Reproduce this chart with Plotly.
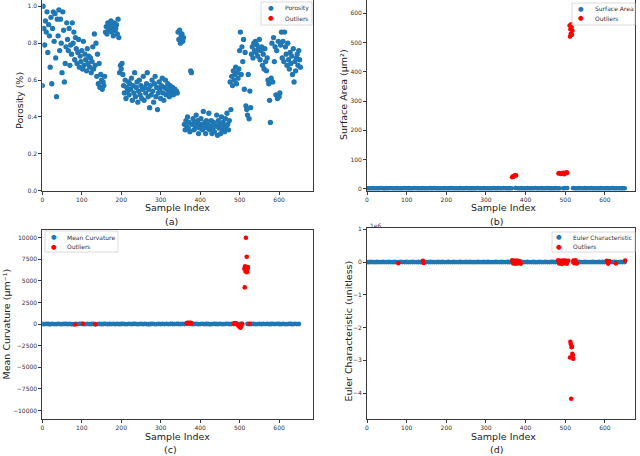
import plotly.graph_objects as go

# ---- data ----
# porosity, one value every 2nd sample index (0, 2, ..., 654)
porosity = [
    0.57, 1.00, 0.88, 0.79, 0.92, 0.86, 0.97, 0.75, 0.90, 0.84,
    0.67, 0.94, 0.58, 0.88, 0.97, 0.81, 0.96, 0.72, 0.51, 0.93,
    0.84, 0.98, 0.76, 0.93, 0.80, 0.64, 0.97, 0.87, 0.59, 0.69,
    0.78, 0.91, 0.82, 0.76, 0.88, 0.68, 0.79, 0.74, 0.91, 0.80,
    0.86, 0.71, 0.83, 0.77, 0.69, 0.75, 0.82, 0.67, 0.73, 0.70,
    0.76, 0.66, 0.81, 0.68, 0.74, 0.71, 0.65, 0.77, 0.69, 0.73,
    0.67, 0.72, 0.64, 0.70, 0.78, 0.66, 0.85, 0.68, 0.80, 0.62,
    0.74, 0.58, 0.69, 0.56, 0.63, 0.60, 0.55, 0.59, 0.57, 0.62,
    0.86, 0.89, 0.85, 0.91, 0.88, 0.90, 0.87, 0.92, 0.86, 0.89,
    0.84, 0.91, 0.87, 0.88, 0.90, 0.85, 0.93, 0.83, 0.64, 0.68,
    0.66, 0.69, 0.63, 0.57, 0.53, 0.60, 0.50, 0.56, 0.54, 0.59,
    0.52, 0.58, 0.55, 0.61, 0.49, 0.57, 0.53, 0.64, 0.51, 0.56,
    0.59, 0.48, 0.54, 0.60, 0.52, 0.57, 0.50, 0.55, 0.62, 0.49,
    0.56, 0.53, 0.58, 0.64, 0.51, 0.55, 0.45, 0.57, 0.52, 0.60,
    0.54, 0.48, 0.58, 0.62, 0.51, 0.56, 0.44, 0.53, 0.59, 0.55,
    0.50, 0.57, 0.61, 0.53, 0.49, 0.56, 0.60, 0.52, 0.55, 0.58,
    0.54, 0.51, 0.57, 0.53, 0.55, 0.56, 0.52, 0.54, 0.55, 0.53,
    0.54, 0.53, 0.86, 0.82, 0.87, 0.80, 0.84, 0.85, 0.81, 0.83,
    0.36, 0.33, 0.38, 0.35, 0.40, 0.34, 0.37, 0.32, 0.65, 0.64,
    0.36, 0.39, 0.33, 0.37, 0.34, 0.41, 0.35, 0.38, 0.31, 0.36,
    0.34, 0.39, 0.36, 0.33, 0.43, 0.35, 0.37, 0.31, 0.38, 0.34,
    0.36, 0.42, 0.33, 0.35, 0.38, 0.31, 0.34, 0.37, 0.32, 0.36,
    0.35, 0.41, 0.30, 0.38, 0.34, 0.36, 0.31, 0.40, 0.33, 0.37,
    0.35, 0.32, 0.39, 0.34, 0.42, 0.36, 0.33, 0.38, 0.59, 0.44,
    0.62, 0.57, 0.65, 0.60, 0.63, 0.67, 0.58, 0.64, 0.61, 0.66,
    0.76, 0.86, 0.63, 0.78, 0.70, 0.82, 0.55, 0.75, 0.46, 0.44,
    0.41, 0.63, 0.39, 0.54, 0.45, 0.74, 0.78, 0.72, 0.80, 0.76,
    0.81, 0.75, 0.79, 0.73, 0.77, 0.82, 0.71, 0.76, 0.78, 0.68,
    0.74, 0.66, 0.77, 0.70, 0.65, 0.72, 0.60, 0.58, 0.49, 0.37,
    0.61, 0.80, 0.59, 0.83, 0.70, 0.78, 0.52, 0.76, 0.50, 0.81,
    0.51, 0.53, 0.79, 0.86, 0.72, 0.81, 0.70, 0.86, 0.78, 0.74,
    0.68, 0.80, 0.71, 0.66, 0.75, 0.69, 0.73, 0.63, 0.77, 0.59,
    0.70, 0.65, 0.72, 0.74, 0.68, 0.76, 0.71, 0.67,
]
porosity_idx = list(range(0, 2 * len(porosity), 2))

# non-outlier samples for the other three metrics, every 5th index (None = flagged)
surface_area = [
    1.8, 2.1, 1.6, 2.4, 1.9, 2.2, 1.7, 2.6, 2.0, 1.5,
    2.3, 1.9, 2.7, 2.1, 1.8, 2.4, 2.0, 1.6, 2.2, 2.5,
    1.9, 2.3, 1.7, 2.0, 2.6, 1.8, 2.2, 1.9, 2.4, 2.1,
    1.6, 2.0, 2.3, 1.8, 2.5, 2.1, 1.7, 2.2, 1.9, 2.4,
    2.0, 1.8, 2.3, 2.6, 1.9, 2.1, 1.7, 2.4, 2.2, 1.8,
    2.5, 2.0, 1.6, 2.3, 1.9, 2.2, 2.7, 1.8, 2.1, 2.4,
    1.9, 2.2, 1.7, 2.0, 2.5, 1.8, 2.3, 2.1, 1.9, 2.6,
    2.0, 1.7, 2.4, 2.2, None, 2.8, 2.1, 1.9, 2.3, 2.0,
    1.8, 2.4, 2.1, 1.7, 2.2, 2.5, 1.9, 2.0, 2.3, 1.8,
    2.1, 2.6, 1.9, 2.2, 1.7, 2.4, 2.0, 1.8, None, 2.1,
    2.9, 3.1, None, None, 2.7, 2.2, 1.9, 2.4, 2.0, 1.8,
    2.3, 2.1, 1.7, 2.5, 1.9, 2.2, 2.0, 1.8, 2.4, 2.1,
    1.9, 2.3, 1.6, 2.0, 2.5, 1.8, 2.2, 2.1, 1.9, 2.4,
    2.0,
]
mean_curvature = [
    14, -6, 22, 9, -15, 31, 4, -11, 18, 7,
    -9, 26, 12, -4, 19, -17, 8, 33, -2, 15,
    21, -12, 6, 28, -7, 11, 17, -20, 3, 24,
    -5, 13, 30, -14, 9, 2, 25, -8, 16, -3,
    10, 27, -13, 5, 20, -1, 14, 29, -10, 7,
    18, -6, 23, 1, -16, 12, 31, -4, 8, 19,
    -11, 26, 4, 15, -7, 21, 9, -2, 28, 13,
    -9, 17, 6, 24, None, 35, -5, 11, 20, -12,
    8, 27, -3, 14, 22, -15, 5, 18, 10, -6,
    25, 2, -10, 16, 29, -8, 12, 7, None, 33,
    -18, 41, None, None, 19, -4, 13, 26, -9, 6,
    21, -14, 15, 3, 28, -7, 11, 24, -2, 17,
    9, -11, 30, 5, -6, 20, 14, -13, 23, 8,
    12,
]
euler_char = [
    1200, -800, 2500, 600, -1500, 3100, 400, -1100, 1800, 700,
    -900, 2600, 1200, -400, 1900, -1700, 800, 3300, -200, 1500,
    2100, -1200, 600, 2800, -700, 1100, 1700, -2000, 300, 2400,
    -500, 1300, 3000, -1400, 900, 200, 2500, -800, 1600, -300,
    1000, 2700, -1300, 500, 2000, -100, 1400, 2900, -1000, 700,
    1800, -600, 2300, 100, -1600, 1200, 3100, -400, 800, 1900,
    -1100, 2600, 400, 1500, -700, 2100, 900, -200, 2800, 1300,
    -900, 1700, 600, 2400, None, 3500, -500, 1100, 2000, -1200,
    800, 2700, -300, 1400, 2200, -1500, 500, 1800, 1000, -600,
    2500, 200, -1000, 1600, 2900, -800, 1200, 700, None, 3300,
    -1800, 4100, None, None, 1900, -400, 1300, 2600, -900, 600,
    2100, -1400, 1500, 300, 2800, -700, 1100, 2400, -200, 1700,
    900, -1100, 3000, 500, -600, 2000, 1400, -1300, 2300, 800,
    1200,
]
normal_idx = list(range(0, 5 * len(surface_area), 5))

sa_out_idx = [366, 368, 370, 372, 374, 376, 483, 486, 489, 492, 495, 498, 501, 503, 505,
              511, 512, 513, 514, 515, 516, 517, 518]
sa_out_val = [40, 43, 42, 45, 47, 46, 53, 54, 51, 53, 55, 50, 54, 57, 55,
              558, 520, 545, 530, 562, 552, 526, 540]

cv_out_idx = [83, 103, 134, 366, 368, 370, 372, 374, 376, 378, 485, 488, 491, 494, 497,
              500, 502, 504, 507, 512, 513, 514, 515, 516, 517, 518, 519, 520, 521, 525]
cv_out_val = [-40, 35, -25, 110, 160, 90, 140, 70, 150, 100, 60, 120, 80, -60, -180,
              -330, -420, -240, 20, 6400, 4250, 6700, 6100, 10000, 6550, 7800, 6000, 6300, 6600, 40]

eu_out_idx = [79, 141, 143, 366, 369, 372, 375, 378, 381, 384, 388, 482, 485, 488, 491,
              494, 497, 500, 504, 508, 512, 513, 514, 515, 516, 517, 518, 519, 520, 521,
              523, 526, 529, 605, 608, 611, 628, 651]
eu_out_val = [-35000, 42000, -28000, 51000, -44000, 38000, -52000, 47000, -39000, 33000,
              -46000, 55000, -41000, 36000, -58000, 44000, -37000, 49000, -53000, 40000,
              -2910000, -2430000, -2500000, -4170000, -2600000, -2580000, -2800000,
              -2850000, -2950000, 45000, -38000, 52000, -43000, 39000, -47000, 34000,
              -41000, 48000]

BLUE = "#1f77b4"
RED = "#ff0000"
W, H = 640, 456
FONT = "DejaVu Sans"

fig = go.Figure()


def add_panel(n, x, y, name, out_x, out_y, size=4.8):
    ax = "" if n == 1 else str(n)
    fig.add_trace(go.Scatter(x=x, y=y, mode="markers", name=name, showlegend=False,
                             marker=dict(color=BLUE, size=size),
                             xaxis="x" + ax, yaxis="y" + ax))
    fig.add_trace(go.Scatter(x=out_x, y=out_y, mode="markers", name="Outliers", showlegend=False,
                             marker=dict(color=RED, size=4.6),
                             xaxis="x" + ax, yaxis="y" + ax))


add_panel(1, porosity_idx, porosity, "Porosity", [], [], size=5.3)
add_panel(2, normal_idx, surface_area, "Surface Area", sa_out_idx, sa_out_val)
add_panel(3, normal_idx, mean_curvature, "Mean Curvature", cv_out_idx, cv_out_val)
add_panel(4, normal_idx, euler_char, "Euler Characteristic", eu_out_idx, eu_out_val)

axis_style = dict(showline=True, linecolor="#3a3a3a", linewidth=0.9, mirror=True,
                  ticks="outside", ticklen=3, tickwidth=0.8, tickcolor="#3a3a3a",
                  tickfont=dict(size=6, color="#333333", family=FONT),
                  showgrid=False, zeroline=False, automargin=False)

xl = [42.3 / W, 313 / W]
xr = [367 / W, 635 / W]
yt = [1 - 190.7 / H, 1.0]
yb = [1 - 418.7 / H, 1 - 229.5 / H]
xticks = [0, 100, 200, 300, 400, 500, 600]

fig.update_layout(
    width=W, height=H, margin=dict(l=0, r=0, t=0, b=0),
    plot_bgcolor="white", paper_bgcolor="white", showlegend=False,
    font=dict(family=FONT, color="#222222"),
    xaxis=dict(domain=xl, range=[0, 686], tickvals=xticks, anchor="y", **axis_style),
    yaxis=dict(domain=yt, range=[0, 1.034], tickvals=[0, 0.2, 0.4, 0.6, 0.8, 1.0],
               tickformat=".1f", anchor="x", **axis_style),
    xaxis2=dict(domain=xr, range=[0, 676], tickvals=xticks, anchor="y2", **axis_style),
    yaxis2=dict(domain=yt, range=[-6, 645], tickvals=[0, 100, 200, 300, 400, 500, 600],
                anchor="x2", **axis_style),
    xaxis3=dict(domain=xl, range=[0, 686], tickvals=xticks, anchor="y3", **axis_style),
    yaxis3=dict(domain=yb, range=[-10950, 10950],
                tickvals=[-10000, -7500, -5000, -2500, 0, 2500, 5000, 7500, 10000],
                tickformat="d", anchor="x3", **axis_style),
    xaxis4=dict(domain=xr, range=[0, 676], tickvals=xticks, anchor="y4", **axis_style),
    yaxis4=dict(domain=[yb[0], 1 - 228 / H], range=[-4.78e6, 1.04e6],
                tickvals=[-4e6, -3e6, -2e6, -1e6, 0, 1e6],
                ticktext=["\u22124", "\u22123", "\u22122", "\u22121", "0", "1"],
                anchor="x4", **axis_style),
)


def px_note(text, px, py, size, color="#222222", anchor="center", angle=0):
    fig.add_annotation(text=text, x=px / W, y=1 - py / H, xref="paper", yref="paper",
                       showarrow=False, textangle=angle, xanchor=anchor, yanchor="middle",
                       font=dict(size=size, color=color, family=FONT))


# legends drawn as in matplotlib (compact box, two rows)
legends = [
    ((261, 2, 312, 25), 270.7, 282.7, (8.3, 18.3), "Porosity"),
    ((572, 3, 635, 25), 581, 592.7, (8.7, 18.3), "Surface Area"),
    ((45, 231, 118, 252), 54, 65, (237.3, 246.7), "Mean Curvature"),
    ((552, 232, 635, 252), 559.3, 570.7, (237.3, 246.7), "Euler Characteristic"),
]
for (x0, y0, x1, y1), gx, tx, rows, name in legends:
    fig.add_shape(type="rect", xref="paper", yref="paper", layer="above",
                  x0=x0 / W, x1=x1 / W, y0=1 - y1 / H, y1=1 - y0 / H,
                  line=dict(color="#d0d0d0", width=0.8), fillcolor="rgba(255,255,255,0.8)")
    for (label, col), ry in zip([(name, BLUE), ("Outliers", RED)], rows):
        px_note("\u25cf", gx, ry, 6.5, color=col)
        px_note(label, tx, ry, 6, color="#333333", anchor="left")

# axis titles and panel labels placed like the source figure
labels = [
    ("Sample Index", 177.5, 207.7, 0), ("(a)", 171, 221.7, 0),
    ("Sample Index", 503, 207.7, 0), ("(b)", 496, 221.7, 0),
    ("Sample Index", 177.5, 436.3, 0), ("(c)", 170, 449.7, 0),
    ("Sample Index", 503, 436.3, 0), ("(d)", 496, 449.7, 0),
    ("Porosity (%)", 20, 101, -90),
    ("Surface Area (\u03bcm\u00b2)", 343, 95, -90),
    ("Mean Curvature (\u03bcm\u207b\u00b9)", 6, 324.5, -90),
    ("Euler Characteristic (unitless)", 347.5, 331, -90),
]
for text, px, py, ang in labels:
    px_note(text, px, py, 9.5, angle=ang)

px_note("1e6", 368, 225, 6, color="#333333", anchor="left")

fig.write_html("out.html", config={"displayModeBar": False},
               post_script="document.body.style.margin='0';")
